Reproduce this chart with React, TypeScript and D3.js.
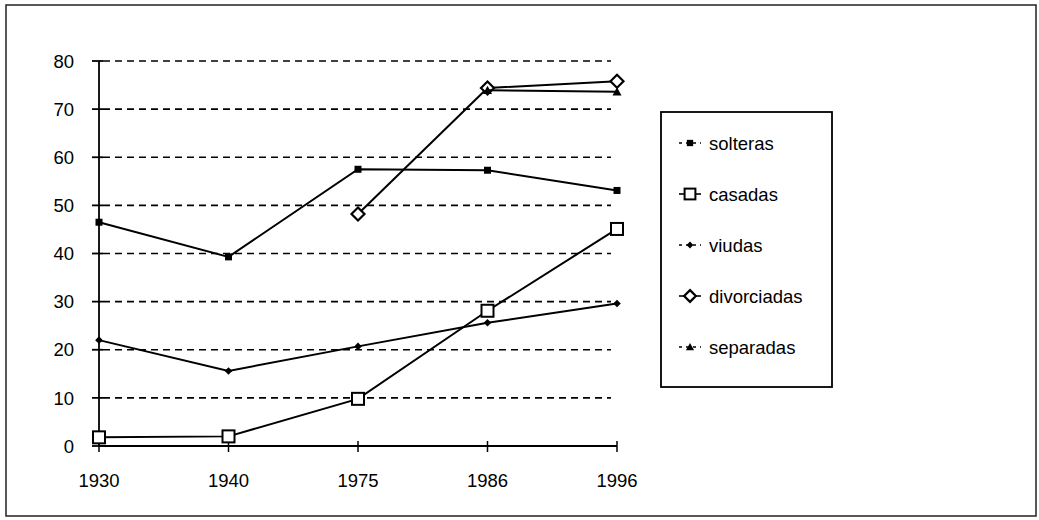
import React from "react";
import * as d3 from "d3";

const width = 1039;
const height = 520;
const margin = { top: 61, left: 99, right: 422, bottom: 74 };

// categories and series (null = no value)
const years = ["1930", "1940", "1975", "1986", "1996"];
const solteras = [46.5, 39.3, 57.5, 57.3, 53.1];
const casadas = [1.8, 2.0, 9.8, 28.1, 45.1];
const viudas = [22.0, 15.6, 20.7, 25.6, 29.6];
const divorciadas = [null, null, 48.2, 74.4, 75.8];
const separadas = [null, null, null, 73.9, 73.6];
const yTicks = [0, 10, 20, 30, 40, 50, 60, 70, 80];

type Kind = "sq" | "osq" | "dot" | "odia" | "tri";
const series: { name: string; values: (number | null)[]; kind: Kind }[] = [
  { name: "solteras", values: solteras, kind: "sq" },
  { name: "casadas", values: casadas, kind: "osq" },
  { name: "viudas", values: viudas, kind: "dot" },
  { name: "divorciadas", values: divorciadas, kind: "odia" },
  { name: "separadas", values: separadas, kind: "tri" },
];

const font = "'Liberation Sans', Arial, Helvetica, sans-serif";

const Marker = ({ kind, x, y, small }: { kind: Kind; x: number; y: number; small?: boolean }) => {
  const k = small ? 0.9 : 1;
  if (kind === "sq") {
    const s = 7 * k;
    return <rect x={x - s / 2} y={y - s / 2} width={s} height={s} fill="#000" />;
  }
  if (kind === "osq") {
    const s = 12 * k;
    return <rect x={x - s / 2} y={y - s / 2} width={s} height={s} fill="#fff" stroke="#000" strokeWidth={2} />;
  }
  if (kind === "dot") {
    const s = 3.8 * k;
    return <path d={`M${x},${y - s}L${x + s},${y}L${x},${y + s}L${x - s},${y}Z`} fill="#000" />;
  }
  if (kind === "odia") {
    const s = 6.5 * k;
    return <path d={`M${x},${y - s}L${x + s},${y}L${x},${y + s}L${x - s},${y}Z`} fill="#fff" stroke="#000" strokeWidth={2.2} />;
  }
  const s = 4.5 * k;
  return <path d={`M${x},${y - s}L${x + s},${y + s * 0.8}L${x - s},${y + s * 0.8}Z`} fill="#000" />;
};

export default function App() {
  const x = d3
    .scalePoint<string>()
    .domain(years)
    .range([margin.left, width - margin.right]);
  const y = d3
    .scaleLinear()
    .domain([0, 80])
    .range([height - margin.bottom, margin.top]);

  const line = d3
    .line<number | null>()
    .defined((d) => d !== null)
    .x((_, i) => x(years[i]) as number)
    .y((d) => y(d as number));

  const x0 = x(years[0]) as number;
  const x1 = x(years[years.length - 1]) as number;

  const legX = 661;
  const legY = 112;
  const legW = 171;
  const legH = 275;
  const legStep = 51;

  return (
    <svg
      width={width}
      height={height}
      style={{ position: "absolute", left: 0, top: 0, background: "#fff" }}
      fontFamily={font}
    >
      <rect x={6} y={5} width={1030} height={511} fill="none" stroke="#222" strokeWidth={1.5} />

      {/* grid */}
      {yTicks.filter((t) => t > 0).map((t) => (
        <line
          key={t}
          x1={x0 + 4}
          x2={x1 - 6}
          y1={y(t)}
          y2={y(t)}
          stroke="#000"
          strokeWidth={1.6}
          strokeDasharray="7,5"
        />
      ))}

      {/* y axis */}
      <line x1={x0} x2={x0} y1={y(80)} y2={y(0)} stroke="#000" strokeWidth={1.8} />
      {yTicks.map((t) => (
        <g key={t}>
          <line x1={x0 - 7} x2={x0 + 4} y1={y(t)} y2={y(t)} stroke="#000" strokeWidth={1.8} />
          <text x={x0 - 25} y={y(t)} dy="0.36em" textAnchor="end" fontSize={18.5} fill="#000">
            {t}
          </text>
        </g>
      ))}

      {/* x axis */}
      <line x1={x0} x2={x1} y1={y(0)} y2={y(0)} stroke="#000" strokeWidth={1.8} />
      {years.map((yr) => (
        <g key={yr}>
          <line x1={x(yr)} x2={x(yr)} y1={y(0) - 5} y2={y(0) + 6} stroke="#000" strokeWidth={1.5} />
          <text x={x(yr)} y={y(0) + 41} textAnchor="middle" fontSize={18.5} fill="#000">
            {yr}
          </text>
        </g>
      ))}

      {/* series */}
      {series.map((s) => (
        <g key={s.name}>
          <path d={line(s.values) || ""} fill="none" stroke="#000" strokeWidth={2} />
          {s.values.map((v, i) =>
            v === null ? null : <Marker key={i} kind={s.kind} x={x(years[i]) as number} y={y(v)} />
          )}
        </g>
      ))}

      {/* legend */}
      <rect x={legX} y={legY} width={legW} height={legH} fill="#fff" stroke="#000" strokeWidth={1.8} />
      {series.map((s, i) => {
        const cy = legY + 31 + i * legStep;
        const dashed = s.kind === "sq" || s.kind === "dot" || s.kind === "tri";
        return (
          <g key={s.name}>
            <line
              x1={679}
              x2={701}
              y1={cy}
              y2={cy}
              stroke="#000"
              strokeWidth={1.6}
              strokeDasharray={dashed ? "3,4" : undefined}
            />
            <Marker kind={s.kind} x={690} y={cy} small />
            <text x={709} y={cy} dy="0.36em" fontSize={18.5} fill="#000">
              {s.name}
            </text>
          </g>
        );
      })}
    </svg>
  );
}
